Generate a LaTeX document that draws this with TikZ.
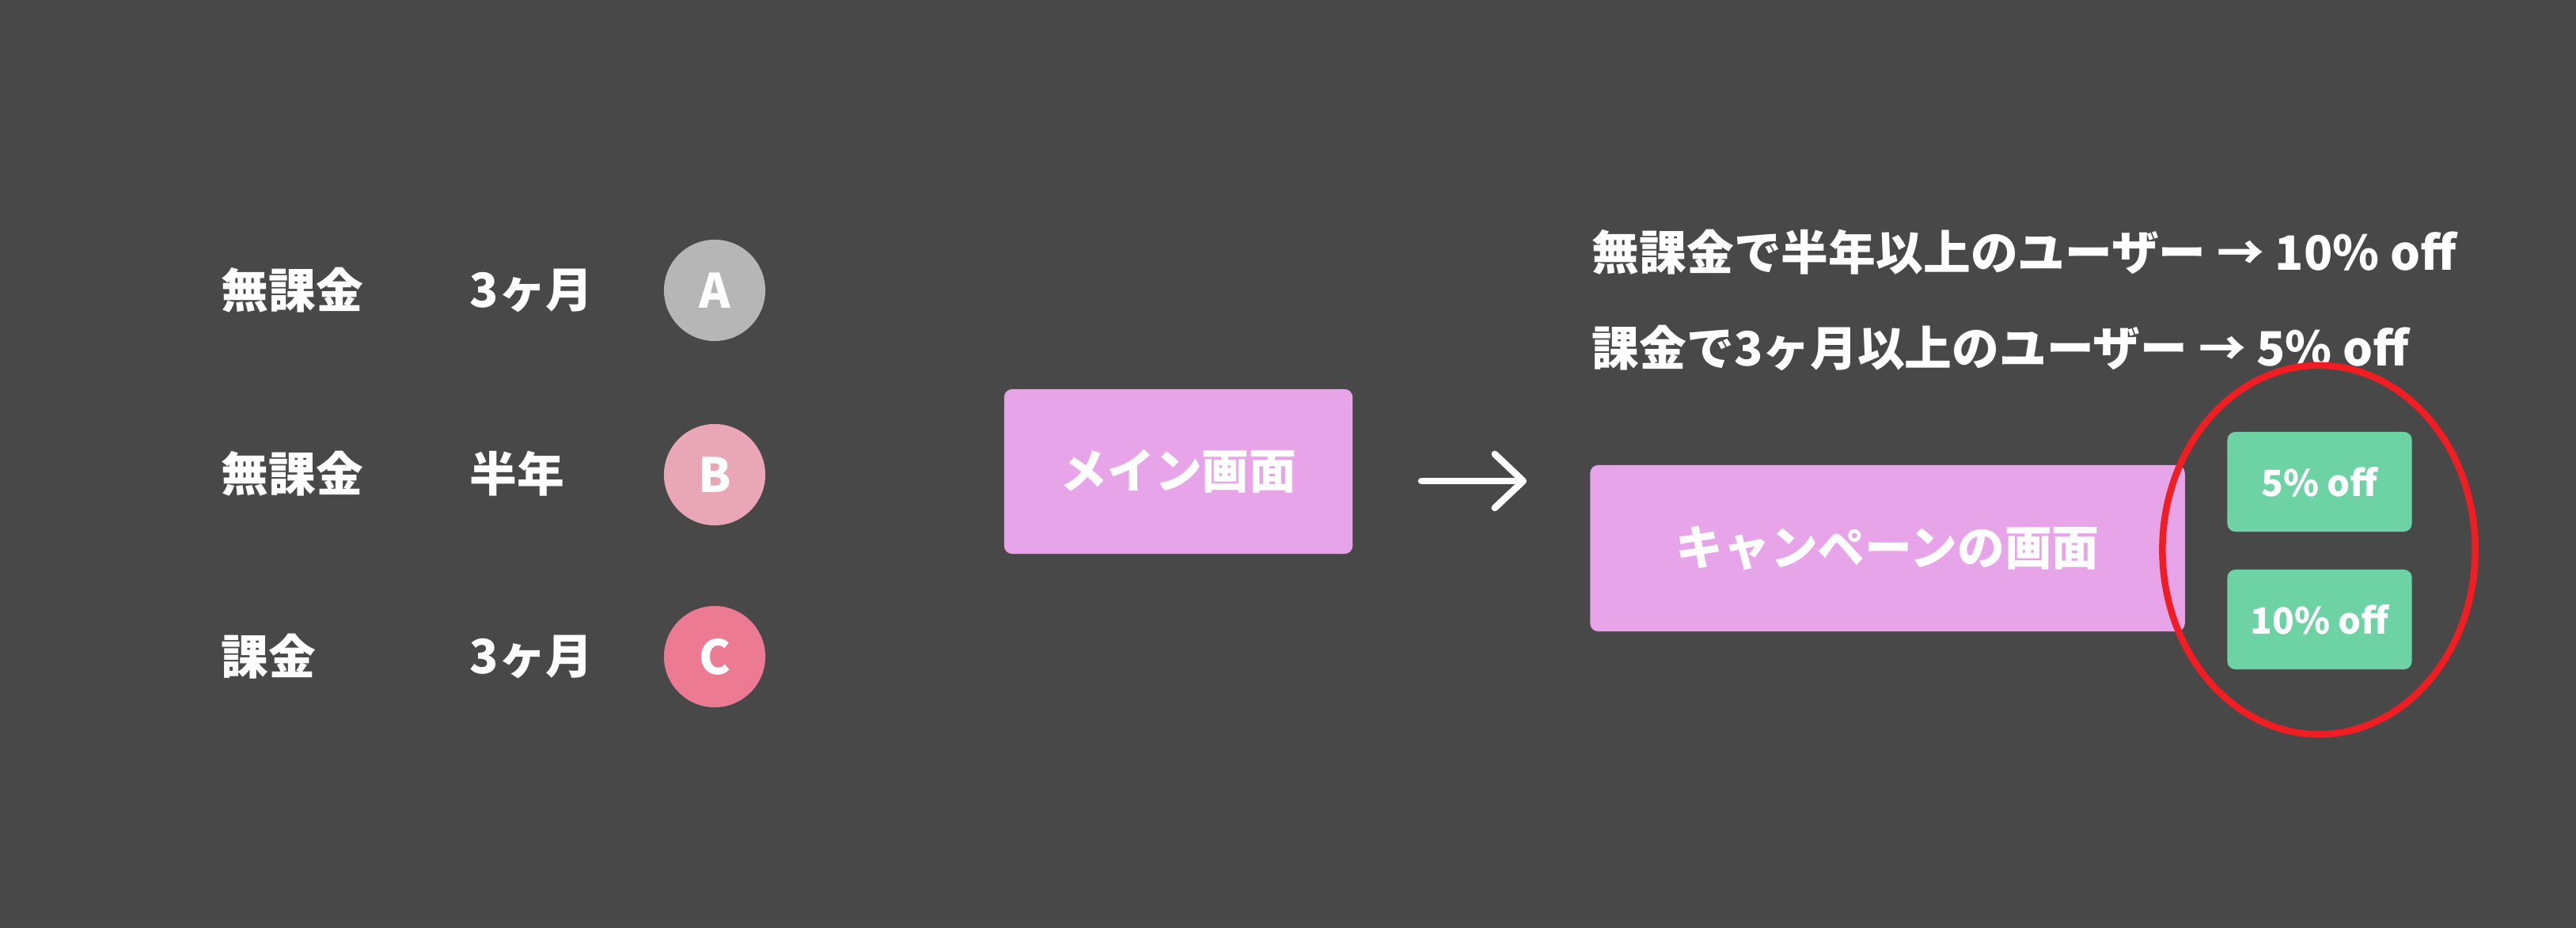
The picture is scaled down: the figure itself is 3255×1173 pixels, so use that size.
\documentclass[tikz,border=0pt]{standalone}
\usepackage{fontspec}
\setmainfont{Noto Sans CJK JP}
\usetikzlibrary{arrows.meta,shapes.geometric}
\definecolor{bggray}{HTML}{484848}
\definecolor{screenpink}{HTML}{E8A4E8}
\definecolor{offergreen}{HTML}{6DD3A5}
\definecolor{badgeA}{HTML}{B6B6B6}
\definecolor{badgeB}{HTML}{E9A6B6}
\definecolor{badgeC}{HTML}{EC7A93}
\definecolor{ringred}{HTML}{F01E23}

\begin{document}
\begin{tikzpicture}[x=0.01cm,y=-0.01cm]
\tikzstyle{every node}=[text=white,inner sep=0,font=\bfseries\fontsize{17}{20}\selectfont]
\tikzstyle{screen}=[fill=screenpink,rounded corners=0.1cm]
\tikzstyle{offer}=[fill=offergreen,rounded corners=0.1cm,minimum width=2.33cm,minimum height=1.26cm,font=\bfseries\fontsize{13}{16}\selectfont]
\tikzstyle{badge}=[circle,minimum size=1.28cm]
\tikzstyle{flow}=[draw=white,line width=0.085cm,line cap=round,-{Straight Barb[length=0.36cm,width=0.68cm,round]}]
\useasboundingbox (0,0) rectangle (3255,1173);
\fill[bggray] (0,0) rectangle (3255,1173);

% user groups
\node[anchor=west] (pay1) at (279,367) {無課金};
\node[anchor=west] (term1) at (593,367) {3ヶ月};
\node[badge,fill=badgeA] (userA) at (903,367) {A};
\node[anchor=west] (pay2) at (279,599) {無課金};
\node[anchor=west] (term2) at (593,599) {半年};
\node[badge,fill=badgeB] (userB) at (903,600) {B};
\node[anchor=west] (pay3) at (279,830) {課金};
\node[anchor=west] (term3) at (593,830) {3ヶ月};
\node[badge,fill=badgeC] (userC) at (903,830) {C};

% screens
\node[screen,minimum width=4.4cm,minimum height=2.08cm] (main) at (1489,596) {メイン画面};
\coordinate (flowstart) at (1796,608);
\coordinate (flowend) at (1929,608);
\draw[flow] (flowstart) -- (flowend);

\node[anchor=west] (rule1) at (2011,319) {無課金で半年以上のユーザー → 10\% off};
\node[anchor=west] (rule2) at (2011,440) {課金で3ヶ月以上のユーザー → 5\% off};
\node[screen,minimum width=7.51cm,minimum height=2.1cm] (campaign) at (2385,693) {キャンペーンの画面};
\node[offer] (off5) at (2931,609) {5\% off};
\node[offer] (off10) at (2931,783) {10\% off};
\node[ellipse,draw=ringred,line width=0.085cm,minimum width=3.95cm,minimum height=4.66cm] (ring) at (2930,695) {};
\end{tikzpicture}
\end{document}
